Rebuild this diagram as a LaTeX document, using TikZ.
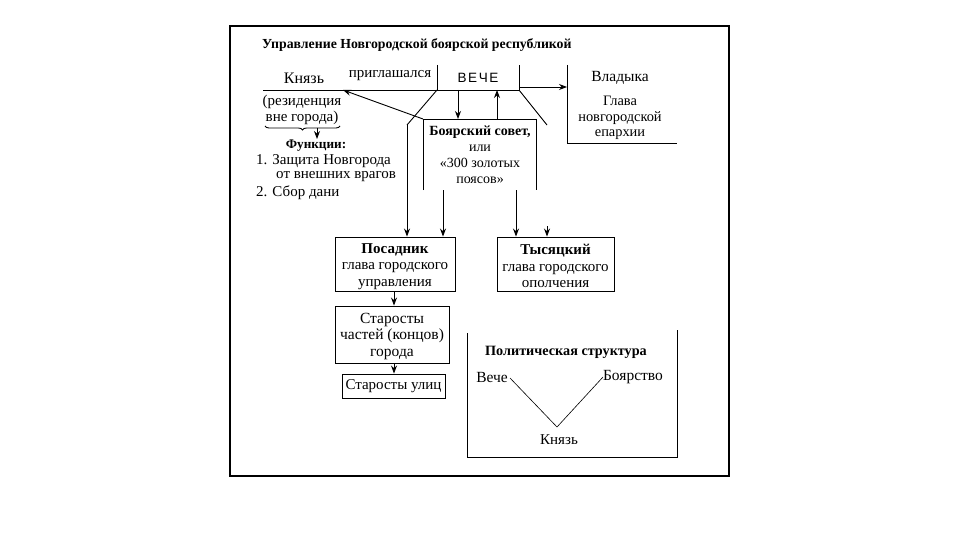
\documentclass[tikz,border=0pt]{standalone}
\usepackage{fontspec}
\setmainfont{Liberation Serif}
\newfontfamily\vechefont[LetterSpace=12]{Liberation Sans}
\usetikzlibrary{arrows.meta,decorations.pathreplacing}
\begin{document}
\begin{tikzpicture}[x=1pt,y=-1pt,
 ln/.style={line width=0.9pt},
 arr/.style={ln,-{Stealth[length=8pt,width=6pt]}},
 txt/.style={inner sep=0pt,font=\fontsize{15}{16}\selectfont},
 btxt/.style={inner sep=0pt,font=\fontsize{13.5}{15}\selectfont\bfseries},
 boxn/.style={draw,ln,inner sep=0pt},
 boxt/.style={align=center,inner sep=0pt,font=\fontsize{15}{16.5}\selectfont}]
\useasboundingbox (0,0) rectangle (960,540);
\draw[line width=1.1pt] (230,26) rectangle (729,476);
\node[btxt,anchor=west,font=\fontsize{13.8}{15}\selectfont\bfseries] (title) at (262,45) {Управление Новгородской боярской республикой};
% Veche
\coordinate (vtl) at (437,65); \coordinate (vbl) at (437,90);
\coordinate (vbr) at (519,90); \coordinate (vtr) at (519,65);
\draw[ln] (vtl) -- (vbl) -- (vbr) -- (vtr);
\node[inner sep=0pt,font=\fontsize{13.5}{15}\selectfont\vechefont] (veche) at (478,78) {ВЕЧЕ};
% Knyaz
\coordinate (kl) at (263,90); \coordinate (kn) at (343,90);
\draw[ln] (kl) -- (vbl);
\node[txt,font=\fontsize{16}{16}\selectfont] (knyaz) at (304,78) {Князь};
\node[txt] (prigl) at (390,76) {приглашался};
\node[txt,align=center,font=\fontsize{15}{16}\selectfont] (rez) at (302,110) {(резиденция\\вне города)};
\draw[ln,decorate,decoration={brace,mirror,amplitude=4pt}] (265,126) -- (340,126);
\coordinate (ba) at (317,128); \coordinate (bb) at (317,139);
\draw[arr] (ba) -- (bb);
\node[btxt,font=\fontsize{13.2}{15}\selectfont\bfseries] (funk) at (316,146) {Функции:};
\node[txt,anchor=west] (f1) at (256,161) {1. Защита Новгорода};
\node[txt,anchor=west] (f1b) at (276,177) {от внешних врагов};
\node[txt,anchor=west] (f2) at (256,193) {2. Сбор дани};
% Boyar council
\coordinate (s1) at (423,190); \coordinate (s2) at (423,119);
\coordinate (s3) at (536,119); \coordinate (s4) at (536,190);
\draw[ln] (s1) -- (s2) -- (s3) -- (s4);
\node[txt,align=center,font=\fontsize{14}{16}\selectfont] (sovet) at (480,155) {\textbf{Боярский совет,}\\или\\«300 золотых\\поясов»};
\draw[arr] (s2) -- (kn);
\coordinate (d1a) at (458,90); \coordinate (d1b) at (458,119);
\coordinate (u1a) at (497,119); \coordinate (u1b) at (497,90);
\draw[arr] (d1a) -- (d1b);
\draw[arr] (u1a) -- (u1b);
% Vladyka
\coordinate (vr) at (519,87); \coordinate (vl) at (567,87);
\draw[arr] (vr) -- (vl);
\coordinate (w1) at (567,65); \coordinate (w2) at (567,143); \coordinate (w3) at (677,143);
\draw[ln] (w1) -- (w2) -- (w3);
\node[txt,font=\fontsize{15.5}{16}\selectfont] (vlad) at (620,78) {Владыка};
\node[txt,align=center,font=\fontsize{14.4}{15.5}\selectfont] (vlad2) at (620,118) {Глава\\новгородской\\епархии};
% Posadnik, Tysyatsky
\node[boxn,minimum width=120pt,minimum height=54pt] (pos) at (395,264) {};
\node[boxt] (post) at ([yshift=-2.5pt]pos.center) {\textbf{Посадник}\\глава городского\\управления};
\node[boxn,minimum width=117pt,minimum height=54pt] (tys) at (555.5,264) {};
\node[boxt] (tyst) at ([yshift=-2pt]tys.center) {\textbf{Тысяцкий}\\глава городского\\ополчения};
\coordinate (dl) at (407,125);
\draw[ln] (vbl) -- (dl);
\draw[arr] (dl) -- (dl |- pos.north);
\coordinate (dr) at (547,125);
\draw[ln] (vbr) -- (dr);
\coordinate (dr2) at (547,226);
\draw[arr] (dr2) -- (dr2 |- tys.north);
\coordinate (sb1) at (443,190); \coordinate (sb2) at (516,190);
\draw[arr] (sb1) -- (sb1 |- pos.north);
\draw[arr] (sb2) -- (sb2 |- tys.north);
% Starosty
\node[boxn,minimum width=114pt,minimum height=57pt] (star) at (392,334.5) {};
\node[boxt,font=\fontsize{15.5}{16.5}\selectfont] (start) at ([yshift=-2pt]star.center) {Старосты\\частей (концов)\\города};
\node[boxn,minimum width=103pt,minimum height=24pt] (ul) at (393.5,386) {};
\node[boxt] (ult) at (ul.center) {Старосты улиц};
\coordinate (pa) at (394,291);
\draw[arr] (pa) -- (pa |- star.north);
\coordinate (pb) at (394,363);
\draw[arr] (pb) -- (pb |- ul.north);
% Political structure
\coordinate (p1) at (467,333); \coordinate (p2) at (467,457);
\coordinate (p3) at (677,457); \coordinate (p4) at (677,330);
\draw[ln] (p1) -- (p2) -- (p3) -- (p4);
\node[btxt,font=\fontsize{14.2}{15}\selectfont\bfseries] (pol) at (566,352) {Политическая структура};
\node[txt,font=\fontsize{15.5}{16}\selectfont] (pv) at (492,377) {Вече};
\node[txt,font=\fontsize{15.5}{16}\selectfont] (pb2) at (633,377) {Боярство};
\node[txt] (pk) at (559,440) {Князь};
\coordinate (v1) at (510,378); \coordinate (v2) at (557,427); \coordinate (v3) at (603,377);
\draw[line width=0.6pt] (v1) -- (v2) -- (v3);
\end{tikzpicture}
\end{document}
